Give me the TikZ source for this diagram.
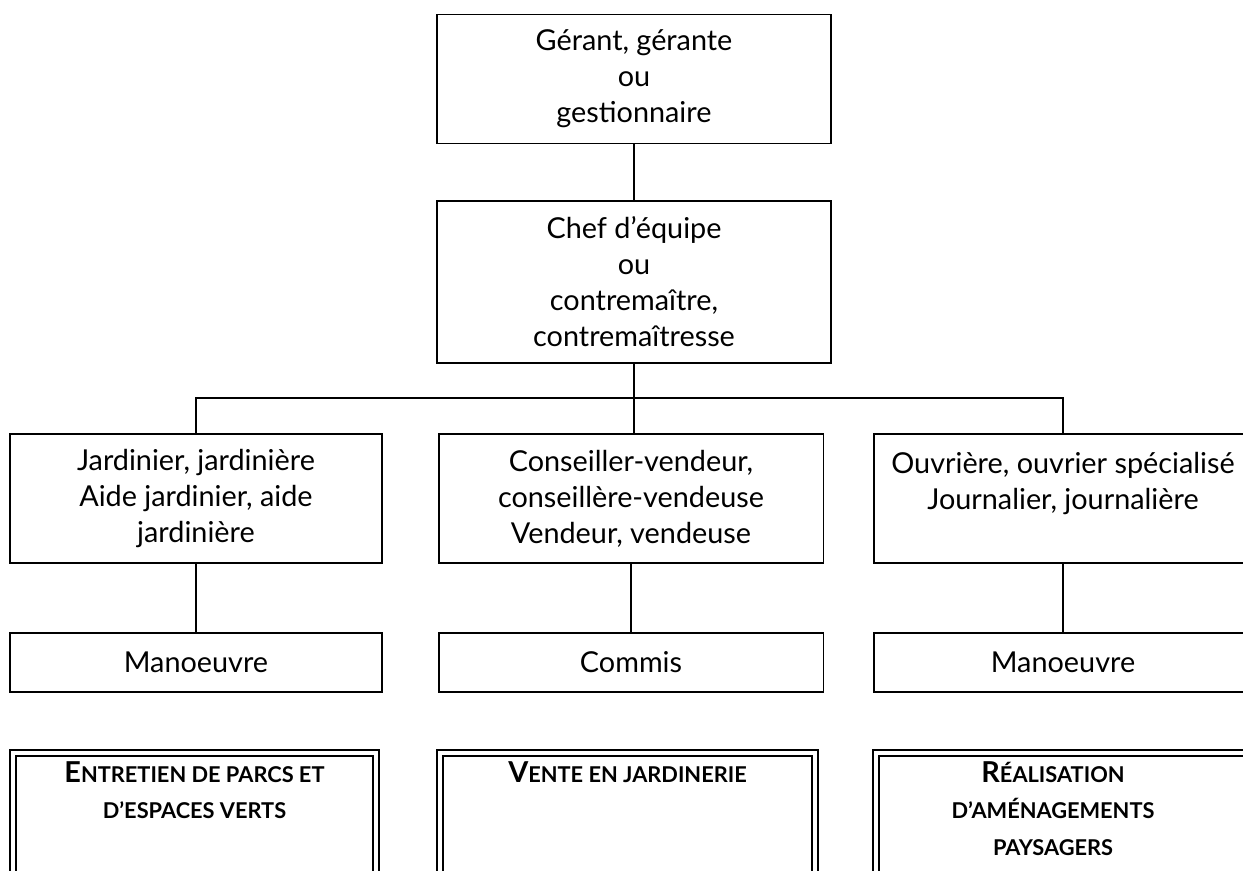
\documentclass[tikz,border=0pt]{standalone}
\usepackage{fontspec}
\setmainfont{Lato}
\usetikzlibrary{positioning,calc}
\newcommand{\grand}[1]{{\fontsize{16.4}{21}\selectfont #1}}
\newcommand{\haut}{\rule{0pt}{16.5pt}}

\begin{document}
\begin{tikzpicture}[x=0.02cm, y=-0.02cm, line width=1.1pt,
  poste/.style={draw,rectangle,align=center,inner sep=2pt,font=\fontsize{16.4}{20.5}\selectfont},
  secteur/.style={draw,rectangle,double,double distance=2.6pt,line width=0.8pt,inner sep=0pt,
    font=\bfseries\fontsize{12.4}{21}\selectfont}]
  \useasboundingbox (0,0) rectangle (1243,871);
  \node[poste,minimum width=7.88cm,minimum height=2.58cm] (gerant) at (634,79) {Gérant, gérante\\ou\\gestionnaire};
  \node[poste,minimum width=7.88cm,minimum height=3.24cm] (chef) at (634,282) {Chef d’équipe\\ou\\contremaître,\\contremaîtresse};
  \coordinate (barre) at (634,398);
  \node[poste,minimum width=7.44cm,minimum height=2.58cm] (jard) at (196,498.5) {Jardinier, jardinière\\Aide jardinier, aide\\jardinière};
  \node[poste,minimum width=7.7cm,minimum height=2.58cm] (vente) at (631,498.5) {Conseiller-vendeur,\\conseillère-vendeuse\\Vendeur, vendeuse};
  \node[poste,minimum width=7.56cm,minimum height=2.58cm] (ouvr) at (1063,498.5) {Ouvrière, ouvrier spécialisé\\Journalier, journalière\\\mbox{}};
  \node[poste,minimum width=7.44cm,minimum height=1.18cm] (man1) at (196,662.5) {Manoeuvre};
  \node[poste,minimum width=7.7cm,minimum height=1.18cm] (commis) at (631,662.5) {Commis};
  \node[poste,minimum width=7.56cm,minimum height=1.18cm] (man3) at (1063,662.5) {Manoeuvre};
  \draw (gerant) -- (chef);
  \draw (chef) -- (barre);
  \draw (jard.north) |- (barre);
  \draw (ouvr.north) |- (barre);
  \draw (barre) -- (barre |- vente.north);
  \draw (jard) -- (man1);
  \draw (vente) -- (commis);
  \draw (ouvr) -- (man3);
  \node[secteur] (parcs) at (194.5,814) {\parbox[c][2.44cm][t]{7.26cm}{\centering\haut\grand{E}NTRETIEN DE PARCS ET\\D’ESPACES VERTS}};
  \node[secteur] (jardinerie) at (627.5,814) {\parbox[c][2.44cm][t]{7.5cm}{\centering\haut\grand{V}ENTE EN JARDINERIE}};
  \node[secteur] (amenag) at (1063,814) {\parbox[c][2.44cm][t]{7.48cm}{\centering\rightskip=0.4cm plus 1fil
    \haut\grand{R}ÉALISATION\\D’AMÉNAGEMENTS\\PAYSAGERS}};
\end{tikzpicture}
\end{document}
